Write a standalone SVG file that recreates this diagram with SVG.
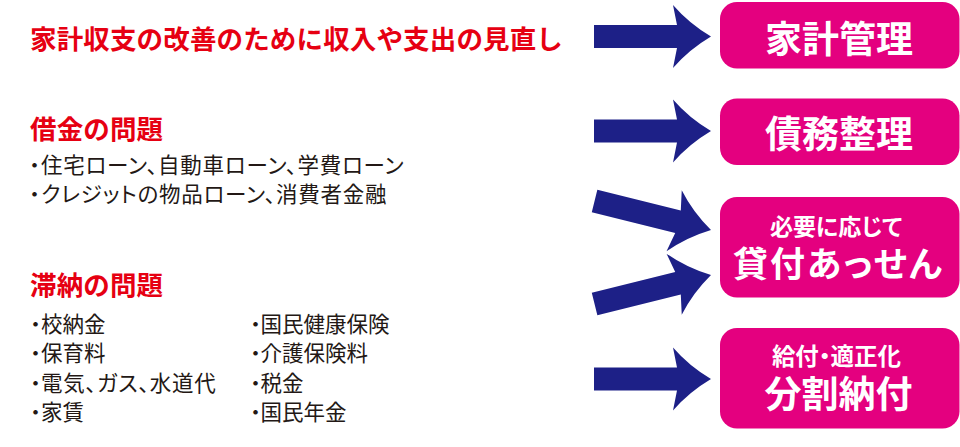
<svg xmlns="http://www.w3.org/2000/svg" xmlns:xlink="http://www.w3.org/1999/xlink" width="960" height="447" viewBox="0 0 960 447">
<style>
.box{fill:#E4007F;}
.bt{fill:#FFFFFF;font-family:"Noto Sans CJK JP","Noto Sans CJK SC",sans-serif;font-weight:700;text-anchor:middle;font-feature-settings:"palt";}
.h{fill:#E60012;font-family:"Noto Sans CJK JP","Noto Sans CJK SC",sans-serif;font-weight:700;font-size:26.5px;letter-spacing:0.15px;}
.b{fill:#231815;font-family:"Noto Sans CJK JP","Noto Sans CJK SC",sans-serif;font-weight:400;font-size:21.5px;font-feature-settings:"palt";}
.k{letter-spacing:0.75px;}
.arr{fill:#1D2087;}
</style>
<defs>
<path id="ah" d="M-117,-11.5 L-34,-11.5 L-38,-31.5 Q-22,-13 0,0 Q-22,13 -38,31.5 L-34,11.5 L-117,11.5 Z"/>
<path id="ad" d="M-120,-11.5 L-34,-11.5 L-38,-31.5 Q-22,-13 0,0 Q-22,13 -38,31.5 L-34,11.5 L-120,11.5 Z"/>
</defs>
<g id="connectors" class="arr">
<use xlink:href="#ah" href="#ah" transform="translate(711,36.5)"/>
<use xlink:href="#ah" href="#ah" transform="translate(711,131)"/>
<use xlink:href="#ad" href="#ad" transform="translate(711,230) rotate(14)"/>
<use xlink:href="#ad" href="#ad" transform="translate(711,275) rotate(-14)"/>
<use xlink:href="#ah" href="#ah" transform="translate(711,379)"/>
</g>
<g id="src-kakei">
<text class="h" x="30" y="48.5">家計収支の改善のために収入や支出の見直し</text>
</g>
<g id="src-shakkin">
<text class="h" x="30" y="138.5">借金の問題</text>
<text class="b" x="29" y="172.5">・</text><text class="b k" x="41" y="172.5">住宅ローン、自動車ローン、学費ローン</text>
<text class="b" x="29" y="201.5">・</text><text class="b k" x="41" y="201.5">クレジットの物品ローン、消費者金融</text>
</g>
<g id="src-tainou">
<text class="h" x="30" y="295">滞納の問題</text>
<text class="b" x="30" y="332">・</text><text class="b" x="41" y="332">校納金</text>
<text class="b" x="30" y="361">・</text><text class="b" x="41" y="361">保育料</text>
<text class="b" x="30" y="390.5">・</text><text class="b k" x="41" y="390.5">電気、ガス、水道代</text>
<text class="b" x="30" y="420">・</text><text class="b" x="41" y="420">家賃</text>
<text class="b" x="250" y="332">・</text><text class="b" x="260.5" y="332">国民健康保険</text>
<text class="b" x="250" y="361">・</text><text class="b" x="260.5" y="361">介護保険料</text>
<text class="b" x="250" y="390.5">・</text><text class="b" x="260.5" y="390.5">税金</text>
<text class="b" x="250" y="420">・</text><text class="b" x="260.5" y="420">国民年金</text>
</g>
<g id="node-kakeikanri">
<rect class="box" x="720" y="2" width="239.5" height="66.5" rx="17"/>
<text class="bt" x="839" y="52.5" font-size="37">家計管理</text>
</g>
<g id="node-saimuseiri">
<rect class="box" x="720" y="98.5" width="239.5" height="66.5" rx="17"/>
<text class="bt" x="839" y="147.5" font-size="37">債務整理</text>
</g>
<g id="node-kashitsuke">
<rect class="box" x="720" y="197" width="239.5" height="100.5" rx="17"/>
<text class="bt" x="836" y="234.5" font-size="23">必要に応じて</text>
<text class="bt" x="838.5" y="276.5" font-size="35" letter-spacing="2">貸付あっせん</text>
</g>
<g id="node-kyufu">
<rect class="box" x="720" y="328" width="239.5" height="100.5" rx="17"/>
<text class="bt" x="836.5" y="364.5" font-size="23.5">給付・適正化</text>
<text class="bt" x="838.5" y="408" font-size="37">分割納付</text>
</g>
</svg>
